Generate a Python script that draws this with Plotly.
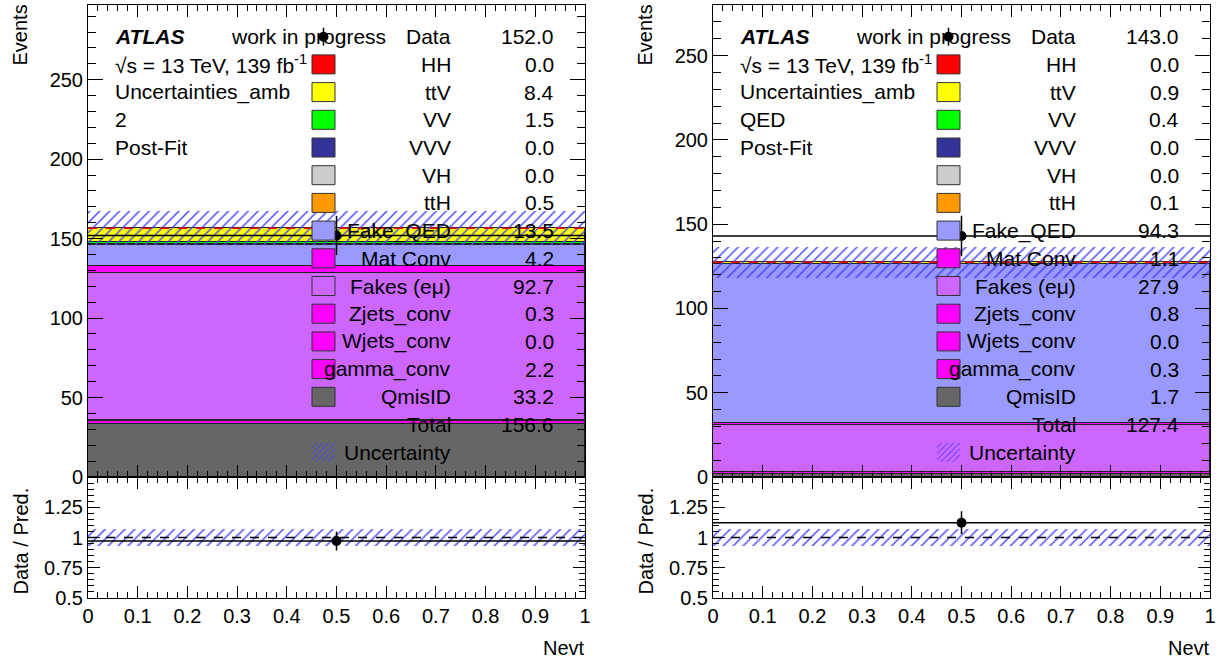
import plotly.graph_objects as go

# ---------------- data ----------------
samples = ["HH", "ttV", "VV", "VVV", "VH", "ttH", "Fake_QED", "Mat Conv",
           "Fakes (eμ)", "Zjets_conv", "Wjets_conv", "gamma_conv", "QmisID"]
colors = ["#ff0000", "#ffff00", "#00ff00", "#333399", "#cccccc", "#ff9900",
          "#9999ff", "#ff00ff", "#cc66ff", "#ff00ff", "#ff00ff", "#ff00ff", "#666666"]
yields_left = [0.0, 8.4, 1.5, 0.0, 0.0, 0.5, 13.5, 4.2, 92.7, 0.3, 0.0, 2.2, 33.2]
yields_right = [0.0, 0.9, 0.4, 0.0, 0.0, 0.1, 94.3, 1.1, 27.9, 0.8, 0.0, 0.3, 1.7]
data_left, data_right = 152.0, 143.0
data_err_left, data_err_right = 12.3, 12.0
total_left, total_right = 156.6, 127.4
unc_left, unc_right = 10.8, 9.3
region_left, region_right = "2", "QED"
ymax_left, ymax_right = 297.0, 280.0
ratio_range = [0.5, 1.5]
ratio_ticks = [0.5, 0.75, 1, 1.25]
ratio_ticktext = ["0.5", "0.75", "1", "1.25"]

W, H = 1219, 663
FONT = "Liberation Sans, Arial, sans-serif"
FS = 21
TFS = 20
HATCH = "#4040ff"


def px(x):
    return x / W


def py(y):
    return 1 - y / H


panels = [
    dict(x0=88, x1=585, yields=yields_left, data=data_left, derr=data_err_left,
         total=total_left, unc=unc_left, region=region_left, ymax=ymax_left, ax=("", "2")),
    dict(x0=713, x1=1210, yields=yields_right, data=data_right, derr=data_err_right,
         total=total_right, unc=unc_right, region=region_right, ymax=ymax_right, ax=("3", "4")),
]
TOP_Y0, TOP_Y1, RAT_Y1 = 5, 477, 598

fig = go.Figure()
annotations = []
shapes = []

hatch_pattern = dict(shape="/", fgcolor=HATCH, bgcolor="rgba(0,0,0,0)", size=7, solidity=0.2,
                     fgopacity=1)

for p in panels:
    axt, axr = p["ax"]
    xt, yt = "x" + axt, "y" + axt
    xr, yr = "x" + axr, "y" + axr
    # ---- stack (bottom-up: reverse legend order) ----
    base = 0.0
    for name, col, v in reversed(list(zip(samples, colors, p["yields"]))):
        if v > 0:
            fig.add_trace(go.Bar(x=[0.5], y=[v], base=[base], width=[1.0],
                                 marker=dict(color=col, line=dict(color="#222222", width=1)),
                                 xaxis=xt, yaxis=yt, showlegend=False, name=name))
        base += v
    # HH signal line at top of stack
    fig.add_trace(go.Scatter(x=[0, 1], y=[p["total"], p["total"]], mode="lines",
                             line=dict(color="#ff0000", width=1.5, dash="dash"),
                             xaxis=xt, yaxis=yt, showlegend=False, hoverinfo="skip"))
    # uncertainty hatch
    fig.add_trace(go.Bar(x=[0.5], y=[2 * p["unc"]], base=[p["total"] - p["unc"]], width=[1.0],
                         marker=dict(color="rgba(0,0,0,0)", line=dict(width=0), pattern=hatch_pattern),
                         xaxis=xt, yaxis=yt, showlegend=False))
    # data
    fig.add_trace(go.Scatter(x=[0.5], y=[p["data"]], mode="markers",
                             marker=dict(color="black", size=10),
                             error_x=dict(type="data", array=[0.5], color="black", thickness=1.5, width=0),
                             error_y=dict(type="data", array=[p["derr"]], color="black", thickness=1.5, width=0),
                             xaxis=xt, yaxis=yt, showlegend=False))
    # ---- ratio ----
    r_unc = p["unc"] / p["total"]
    fig.add_trace(go.Bar(x=[0.5], y=[2 * r_unc], base=[1 - r_unc], width=[1.0],
                         marker=dict(color="rgba(0,0,0,0)", line=dict(width=0), pattern=hatch_pattern),
                         xaxis=xr, yaxis=yr, showlegend=False))
    fig.add_trace(go.Scatter(x=[0, 1], y=[1, 1], mode="lines",
                             line=dict(color="black", width=1.5, dash="dash"),
                             xaxis=xr, yaxis=yr, showlegend=False, hoverinfo="skip"))
    fig.add_trace(go.Scatter(x=[0.5], y=[p["data"] / p["total"]], mode="markers",
                             marker=dict(color="black", size=10),
                             error_x=dict(type="data", array=[0.5], color="black", thickness=1.5, width=0),
                             error_y=dict(type="data", array=[p["derr"] / p["total"]], color="black",
                                          thickness=1.5, width=0),
                             xaxis=xr, yaxis=yr, showlegend=False))

    # ---- axes ----
    common = dict(showline=True, linecolor="black", linewidth=1, mirror="ticks", ticks="inside",
                  showgrid=False, zeroline=False, tickcolor="black", automargin=False,
                  tickfont=dict(family=FONT, size=TFS, color="black"))
    xdom = [px(p["x0"]), px(p["x1"])]
    fig.update_layout(**{
        "xaxis" + axt: dict(common, domain=xdom, range=[0, 1], dtick=0.1, tick0=0, ticklen=12,
                            showticklabels=False, anchor=yt,
                            minor=dict(ticks="inside", dtick=0.02, tick0=0, ticklen=6, tickcolor="black")),
        "yaxis" + axt: dict(common, domain=[py(TOP_Y1), py(TOP_Y0)], range=[0, p["ymax"]],
                            dtick=50, tick0=0, ticklen=15, anchor=xt,
                            minor=dict(ticks="inside", dtick=10, tick0=0, ticklen=8, tickcolor="black")),
        "xaxis" + axr: dict(common, domain=xdom, range=[0, 1], dtick=0.1, tick0=0, ticklen=12,
                            anchor=yr,
                            minor=dict(ticks="inside", dtick=0.02, tick0=0, ticklen=6, tickcolor="black")),
        "yaxis" + axr: dict(common, domain=[py(RAT_Y1), py(TOP_Y1)], range=ratio_range,
                            tickmode="array", tickvals=ratio_ticks, ticktext=ratio_ticktext,
                            ticklen=12, anchor=xr,
                            minor=dict(ticks="inside", tickmode="linear", dtick=0.05, tick0=0.5,
                                       ticklen=6, tickcolor="black")),
    })

    # ---- axis titles ----
    x0 = p["x0"]
    annotations.append(dict(text="Events", x=px(x0 - 68), y=py(TOP_Y0 - 2), xref="paper", yref="paper",
                            textangle=-90, xanchor="center", yanchor="top", showarrow=False,
                            font=dict(family=FONT, size=TFS, color="black")))
    annotations.append(dict(text="Data / Pred.", x=px(x0 - 68), y=py((TOP_Y1 + RAT_Y1) / 2 + 4),
                            xref="paper", yref="paper", textangle=-90, xanchor="center",
                            yanchor="middle", showarrow=False,
                            font=dict(family=FONT, size=TFS, color="black")))
    annotations.append(dict(text="Nevt", x=px(p["x1"] + 2), y=py(648), xref="paper", yref="paper",
                            xanchor="right", yanchor="middle", showarrow=False,
                            font=dict(family=FONT, size=TFS, color="black")))

    # ---- legend / labels (ROOT-style, drawn as text + boxes) ----
    def row_y(i):
        return 36.7 + 27.7 * i

    txt = dict(xref="paper", yref="paper", showarrow=False,
               font=dict(family=FONT, size=FS, color="black"), yanchor="middle")
    left_lines = ["<b><i>ATLAS</i></b>", "√s = 13 TeV, 139 fb<sup>-1</sup>",
                  "Uncertainties_amb", p["region"], "Post-Fit"]
    for i, t in enumerate(left_lines):
        annotations.append(dict(txt, text=t, x=px(x0 + 25), y=py(row_y(i)), xanchor="left"))
    annotations.append(dict(txt, text="work in progress", x=px(x0 + 141), y=py(row_y(0)), xanchor="left"))

    entries = [("Data", p["data"])] + list(zip(samples, p["yields"])) + [("Total", p["total"]), ("Uncertainty", None)]
    for i, (lab, val) in enumerate(entries):
        yc = row_y(i)
        annotations.append(dict(txt, text=lab, x=px(x0 + 365), y=py(yc), xanchor="right"))
        if val is not None:
            annotations.append(dict(txt, text=f"{val:.1f}", x=px(x0 + 468), y=py(yc), xanchor="right"))

    bx0, bx1 = x0 + 224, x0 + 247
    # data marker in legend
    shapes.append(dict(type="line", xref="paper", yref="paper", x0=px((bx0 + bx1) / 2), x1=px((bx0 + bx1) / 2),
                       y0=py(row_y(0) - 9), y1=py(row_y(0) + 9), line=dict(color="black", width=1.5),
                       layer="above"))
    shapes.append(dict(type="circle", xref="paper", yref="paper", x0=px((bx0 + bx1) / 2 - 5),
                       x1=px((bx0 + bx1) / 2 + 5), y0=py(row_y(0) - 5), y1=py(row_y(0) + 5),
                       fillcolor="black", line=dict(color="black", width=0), layer="above"))
    for i, col in enumerate(colors):
        yc = row_y(i + 1)
        shapes.append(dict(type="rect", xref="paper", yref="paper", x0=px(bx0), x1=px(bx1),
                           y0=py(yc + 9.5), y1=py(yc - 9.5), fillcolor=col,
                           line=dict(color="#333333", width=1), layer="above"))
    # uncertainty hatch box
    yc = row_y(len(entries) - 1)
    for k in range(6):
        sx = bx0 - 14 + k * 6
        xa, ya = sx, yc + 9.5
        xb, yb = sx + 19, yc - 9.5
        if xa < bx0:
            ya -= (bx0 - xa)
            xa = bx0
        if xb > bx1:
            yb += (xb - bx1)
            xb = bx1
        if xb > xa:
            shapes.append(dict(type="line", xref="paper", yref="paper", x0=px(xa), y0=py(ya),
                               x1=px(xb), y1=py(yb), line=dict(color=HATCH, width=1), layer="above"))

fig.update_layout(width=W, height=H, margin=dict(l=0, r=0, t=0, b=0),
                  paper_bgcolor="white", plot_bgcolor="white", barmode="overlay", bargap=0,
                  annotations=annotations, shapes=shapes, showlegend=False,
                  font=dict(family=FONT, size=FS, color="black"))

# remove the default 8px page margin so the figure sits at the window origin
fig.write_html("out.html", config={"displayModeBar": False},
               post_script="document.body.style.margin='0';document.body.style.overflow='hidden';")
